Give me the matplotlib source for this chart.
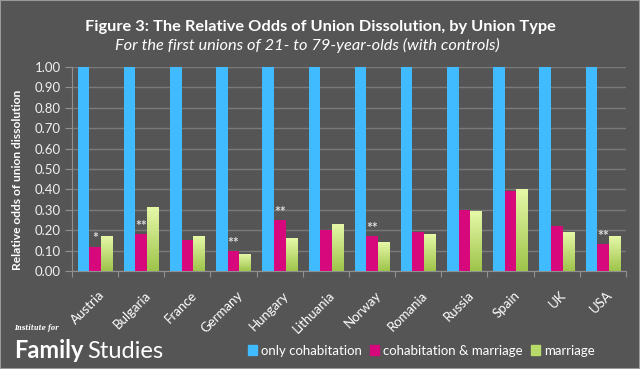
import numpy as np
import matplotlib
matplotlib.use('Agg')
import matplotlib.pyplot as plt
import matplotlib.transforms as mtransforms
from matplotlib.patches import Patch, Rectangle

countries = ['Austria', 'Bulgaria', 'France', 'Germany', 'Hungary', 'Lithuania',
             'Norway', 'Romania', 'Russia', 'Spain', 'UK', 'USA']
only_cohab = [1.00] * 12
cohab_marriage = [0.12, 0.18, 0.15, 0.10, 0.25, 0.20, 0.17, 0.19, 0.30, 0.39, 0.22, 0.13]
marriage = [0.17, 0.31, 0.17, 0.08, 0.16, 0.23, 0.14, 0.18, 0.29, 0.40, 0.19, 0.17]
stars = ['*', '**', '', '**', '**', '', '**', '', '', '', '', '**']
yticks = [0.0, 0.1, 0.2, 0.3, 0.4, 0.5, 0.6, 0.7, 0.8, 0.9, 1.0]

bg = '#555555'
blue = '#40bbff'
pink = '#d6087c'
plt.rcParams['font.family'] = ['Lato', 'DejaVu Sans']

W, H = 640, 369
fig = plt.figure(figsize=(6.4, 3.69), dpi=100, facecolor=bg)
ax = fig.add_axes([0.1125, 0.2656, 0.8656, 0.5528], facecolor=bg)
renderer = fig.canvas.get_renderer()


def fit(t, px, along='width'):
    # scale font so the text spans px pixels
    bb = t.get_window_extent(renderer)
    cur = bb.width if along == 'width' else bb.height
    t.set_fontsize(t.get_fontsize() * px / cur)


x = np.arange(len(countries))
w = 0.25
ax.bar(x - w, only_cohab, w, color=blue, zorder=3)
ax.bar(x, cohab_marriage, w, color=pink, zorder=3)
green_bars = ax.bar(x + w, marriage, w, color='#b8dc6a', zorder=3)

# vertical gradient on the marriage bars
grad = np.linspace(0, 1, 100).reshape(-1, 1)
cmap = matplotlib.colors.LinearSegmentedColormap.from_list('g', ['#9ec44a', '#e6f8a8'])
for b in green_bars:
    bx, bw, bh = b.get_x(), b.get_width(), b.get_height()
    ax.imshow(grad, cmap=cmap, origin='lower', aspect='auto',
              extent=[bx, bx + bw, 0, bh], zorder=4)

for xi, v, s in zip(x, cohab_marriage, stars):
    if s:
        ax.text(xi, v + 0.01, s, ha='center', va='bottom', color='#dcdcdc',
                fontsize=10, fontweight='bold', zorder=5)

ax.set_xlim(-0.5, len(countries) - 0.5)
ax.set_ylim(0, 1.0)
ax.set_yticks(yticks)
ax.set_yticklabels(['%.2f' % t for t in yticks], color='#f0f0f0', fontsize=9.5)
ax.set_xticks(np.arange(len(countries) + 1) - 0.5)
ax.set_xticklabels([])
ax.tick_params(axis='x', length=4, color='#909090')
ax.tick_params(axis='y', length=5, color='#909090', pad=3)
ax.grid(axis='y', color='#7a7a7a', linewidth=1, zorder=0)
for side in ['top', 'right']:
    ax.spines[side].set_visible(False)
for side in ['left', 'bottom']:
    ax.spines[side].set_color('#909090')

# country labels, top-right corner hung just below each group
lab_tr = ax.get_xaxis_transform() + mtransforms.ScaledTranslation(3 / 100, -18 / 100,
                                                                  fig.dpi_scale_trans)
for xi, c in zip(x, countries):
    ax.text(xi, 0, c, transform=lab_tr, rotation=45, ha='right', va='top',
            rotation_mode='anchor', color='white', fontsize=9.5)

ylab = fig.text(18 / W, 1 - 180 / H, 'Relative odds of union dissolution', color='white',
                fontsize=9, fontweight='bold', rotation=90, ha='center', va='center')
fit(ylab, 181, 'height')

title = fig.text(0.5, 0.927, 'Figure 3: The Relative Odds of Union Dissolution, by Union Type',
                 ha='center', va='center', color='white', fontsize=12, fontweight='bold')
fit(title, 469)
sub = fig.text(307 / W, 0.877, 'For the first unions of 21- to 79-year-olds (with controls)',
               ha='center', va='center', color='white', fontsize=11, style='italic')
fit(sub, 386)

# logo
inst = fig.text(0.022, 0.105, 'Institute for', color='white', fontsize=6,
                style='italic', fontweight='bold', family='DejaVu Serif')
fit(inst, 45)
fig.text(0.022, 0.03, 'Family', color='white', fontsize=17, fontweight='bold')
fig.text(0.137, 0.03, 'Studies', color='white', fontsize=17)

handles = [Patch(color=blue, label='only cohabitation'),
           Patch(color=pink, label='cohabitation & marriage'),
           Patch(color='#b8dc6a', label='marriage')]
fig.legend(handles=handles, loc='center', bbox_to_anchor=(0.658, 0.05), ncol=3,
           frameon=False, fontsize=9.5, labelcolor='white', handlelength=0.7,
           handleheight=0.7, handletextpad=0.3, columnspacing=0.6)

fig.patches.append(Rectangle((0, 0), 1, 1, transform=fig.transFigure, fill=False,
                             edgecolor='#9a9a9a', linewidth=1.5))

fig.savefig('out.png', dpi=100, facecolor=bg)
